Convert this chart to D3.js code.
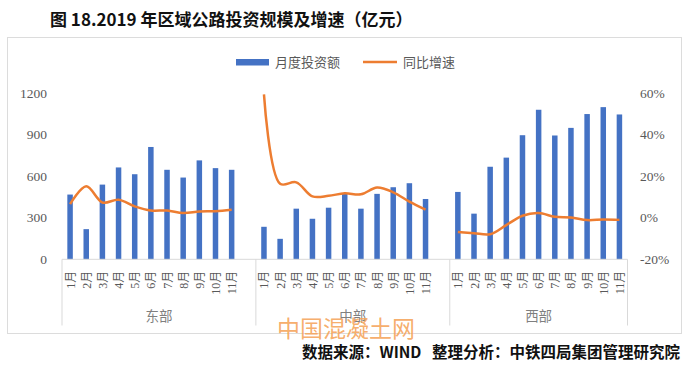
<!DOCTYPE html>
<html lang="zh">
<head>
<meta charset="UTF-8">
<title>2019年区域公路投资规模及增速</title>
<style>
    body { margin: 0; background: #fff; }
    svg { display: block; }
    .tick-label { font-family: "Liberation Serif", "Noto Sans CJK SC", serif; fill: #595959; }
    .cjk { font-family: "Noto Sans CJK SC", sans-serif; }
</style>
</head>
<body>
<svg id="chart" width="691" height="370"></svg>
<script src="https://d3js.org/d3.v7.min.js"></script>
<script>
const regions = ['东部', '中部', '西部'];
const months = ['1月', '2月', '3月', '4月', '5月', '6月', '7月', '8月', '9月', '10月', '11月'];

// 月度投资额（亿元）
const investEast    = [468, 218, 540, 664, 615, 812, 647, 591, 715, 659, 647];
const investCentral = [235, 148, 366, 293, 373, 473, 366, 473, 521, 550, 436];
const investWest    = [487, 330, 669, 735, 897, 1081, 895, 950, 1050, 1100, 1047];

// 同比增速（%）
const growthEast    = [6.6, 15.2, 7.4, 8.7, 5.5, 3.5, 3.5, 2.3, 3.0, 3.2, 3.9];
const growthCentral = [59.5, 16.4, 17.1, 10.3, 10.6, 11.8, 11.3, 14.6, 12.3, 7.8, 3.9];
const growthWest    = [-6.8, -7.4, -7.9, -3.5, 1.0, 2.3, 0.5, 0.2, -1.1, -0.8, -1.0];

const leftTicks = [0, 300, 600, 900, 1200];
const rightTicks = [-20, 0, 20, 40, 60];

const invest = [investEast, investCentral, investWest];
const growth = [growthEast, growthCentral, growthWest];

// one slot per month, plus an empty slot between regions (as in the Excel source)
const slots = [];
regions.forEach((r, gi) => {
    months.forEach(m => slots.push(r + '-' + m));
    if (gi < regions.length - 1) slots.push(r + '-gap');
});

const svg = d3.select('#chart');

const x = d3.scaleBand().domain(slots).range([62, 627.5]);
const yL = d3.scaleLinear().domain([0, 1200]).range([259.3, 93.3]);
const yR = d3.scaleLinear().domain([-20, 60]).range([259.3, 93.3]);

// frame
svg.append('rect')
    .attr('x', 7.5).attr('y', 37.5).attr('width', 674).attr('height', 296)
    .attr('fill', 'none').attr('stroke', '#dcdcdc');

// title
svg.append('text')
    .attr('x', 50).attr('y', 26)
    .attr('font-family', '"Noto Sans CJK SC", sans-serif')
    .attr('font-weight', 'bold').attr('font-size', 17).attr('fill', '#111')
    .text('图 18.2019 年区域公路投资规模及增速（亿元）');

// legend
svg.append('rect').attr('x', 236).attr('y', 59).attr('width', 33).attr('height', 6.5).attr('fill', '#4472C4');
svg.append('text').attr('class', 'cjk').attr('x', 275).attr('y', 67)
    .attr('font-size', 13).attr('fill', '#595959').text('月度投资额');
svg.append('line').attr('x1', 363).attr('x2', 397).attr('y1', 62).attr('y2', 62)
    .attr('stroke', '#ED7D31').attr('stroke-width', 2.5);
svg.append('text').attr('class', 'cjk').attr('x', 403).attr('y', 67)
    .attr('font-size', 13).attr('fill', '#595959').text('同比增速');

// left axis labels
svg.append('g').selectAll('text')
    .data(leftTicks).enter().append('text')
    .attr('class', 'tick-label')
    .attr('x', 47).attr('y', d => yL(d) + 4.5)
    .attr('text-anchor', 'end').attr('font-size', 13.5)
    .text(d => d);

// right axis labels
svg.append('g').selectAll('text')
    .data(rightTicks).enter().append('text')
    .attr('class', 'tick-label')
    .attr('x', 640).attr('y', d => yR(d) + 4.5)
    .attr('font-size', 13.5)
    .text(d => d + '%');

// bars
const barW = x.bandwidth() * 0.34;
regions.forEach((r, gi) => {
    svg.append('g').selectAll('rect')
        .data(invest[gi]).enter().append('rect')
        .attr('x', (d, i) => x(r + '-' + months[i]) + (x.bandwidth() - barW) / 2)
        .attr('y', d => yL(d))
        .attr('width', barW)
        .attr('height', d => yL(0) - yL(d))
        .attr('fill', '#4472C4');
});

// category axis
const axisY = yL(0);
svg.append('line')
    .attr('x1', 62).attr('x2', 627.5).attr('y1', axisY).attr('y2', axisY)
    .attr('stroke', '#d9d9d9');

const bounds = [0, 12, 24, 35].map(i => i < slots.length ? x(slots[i]) : x.range()[1]);
svg.append('g').selectAll('line')
    .data(bounds).enter().append('line')
    .attr('x1', d => d).attr('x2', d => d)
    .attr('y1', axisY).attr('y2', 325.5)
    .attr('stroke', '#d9d9d9');

regions.forEach((r, gi) => {
    svg.append('g').selectAll('text')
        .data(months).enter().append('text')
        .attr('class', 'tick-label')
        .attr('font-size', 12)
        .attr('text-anchor', 'end')
        .attr('transform', m => `translate(${x(r + '-' + m) + x.bandwidth() / 2 + 4.5},${axisY + 11.5}) rotate(-90)`)
        .text(m => m);

    svg.append('text')
        .attr('class', 'cjk')
        .attr('x', (bounds[gi] + bounds[gi + 1]) / 2)
        .attr('y', 321)
        .attr('text-anchor', 'middle')
        .attr('font-size', 13.5).attr('fill', '#7f7f7f')
        .text(r);
});

// growth lines, one per region (gap between regions)
const line = d3.line()
    .x(d => x(d.slot) + x.bandwidth() / 2)
    .y(d => yR(d.v))
    .curve(d3.curveCatmullRom.alpha(0.5));

regions.forEach((r, gi) => {
    const pts = growth[gi].map((v, i) => ({ slot: r + '-' + months[i], v }));
    svg.append('path')
        .attr('d', line(pts))
        .attr('fill', 'none')
        .attr('stroke', '#ED7D31')
        .attr('stroke-width', 2.5)
        .attr('stroke-linejoin', 'round');
});

// watermark
svg.append('text')
    .attr('class', 'cjk')
    .attr('x', 277).attr('y', 337)
    .attr('font-size', 23).attr('fill', '#F5A45A').attr('fill-opacity', 0.9)
    .text('中国混凝土网');

// source note
svg.append('text')
    .attr('x', 680).attr('y', 358)
    .attr('text-anchor', 'end')
    .attr('font-family', '"Noto Sans CJK SC", sans-serif')
    .attr('font-weight', 'bold').attr('font-size', 15.5).attr('fill', '#111')
    .style('white-space', 'pre')
    .text('数据来源：WIND   整理分析：中铁四局集团管理研究院');
</script>
</body>
</html>
